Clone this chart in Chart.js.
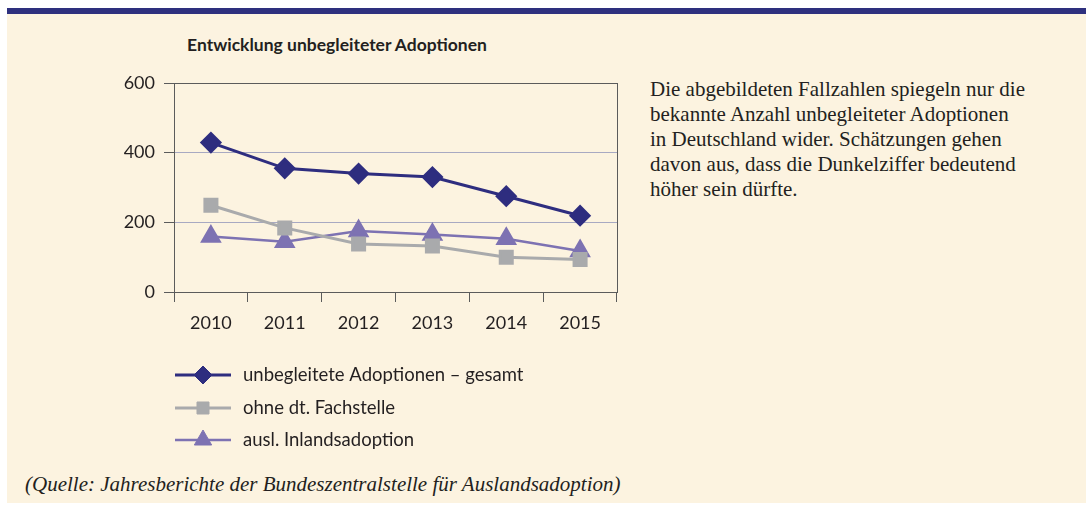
<!DOCTYPE html>
<html>
<head>
<meta charset="utf-8">
<script src="https://cdn.jsdelivr.net/npm/chart.js@4"></script>
<style>
  body { margin: 0; background: #fff; width: 1086px; height: 509px; overflow: hidden; position: relative; }
  #panel { position: absolute; left: 7px; top: 8px; width: 1079px; height: 495px; background: #fcf3e0; border-top: 6px solid #2e307e; box-sizing: border-box; }
  #box { position: absolute; left: 0; top: 0; width: 640px; height: 470px; }
  #title { position: absolute; left: 137px; width: 400px; top: 34px; text-align: center; font: bold 17.5px Lato, sans-serif; color: #231f20; }
  #note { position: absolute; left: 650px; top: 77px; width: 430px; font: 21px "Liberation Serif", serif; line-height: 25px; color: #231f20; }
  #src { position: absolute; left: 25px; top: 472px; font: italic 21px "Liberation Serif", serif; color: #231f20; }
</style>
</head>
<body>
<div id="panel"></div>
<div id="title">Entwicklung unbegleiteter Adoptionen</div>
<div id="box"><canvas id="myChart"></canvas></div>
<div id="note">Die abgebildeten Fallzahlen spiegeln nur die<br>bekannte Anzahl unbegleiteter Adoptionen<br>in Deutschland wider. Schätzungen gehen<br>davon aus, dass die Dunkelziffer bedeutend<br>höher sein dürfte.</div>
<div id="src">(Quelle: Jahresberichte der Bundeszentralstelle für Auslandsadoption)</div>
<script>
// Jahre und Werte
const jahre = ['2010', '2011', '2012', '2013', '2014', '2015'];
const gesamt = [429, 355, 340, 330, 275, 219];
const ohneFachstelle = [249, 184, 138, 132, 100, 93];
const inlandsadoption = [159, 144, 175, 165, 153, 118];
const yTicks = [0, 200, 400, 600];

const schrift = 'Lato, sans-serif';
const dunkel = '#5b5b5b';

// eigene Legende: Linie mit Marker in der Mitte
const legende = {
  id: 'legende',
  afterDraw(chart) {
    const c = chart.ctx;
    const zeilen = [375, 408, 440];
    chart.data.datasets.forEach((ds, i) => {
      const y = zeilen[i];
      c.save();
      c.strokeStyle = ds.borderColor;
      c.lineWidth = ds.borderWidth;
      c.beginPath();
      c.moveTo(175, y);
      c.lineTo(231, y);
      c.stroke();
      c.fillStyle = ds.pointBackgroundColor;
      c.strokeStyle = ds.pointBackgroundColor;
      c.lineWidth = 1;
      Chart.helpers.drawPoint(c, { pointStyle: ds.pointStyle, radius: ds.pointRadius, borderWidth: 1, rotation: 0 }, 203, y);
      c.fillStyle = '#231f20';
      c.font = '18.5px ' + schrift;
      c.textBaseline = 'middle';
      c.fillText(ds.label, 243, y);
      c.restore();
    });
  }
};

new Chart(document.getElementById('myChart'), {
  type: 'line',
  data: {
    labels: jahre,
    datasets: [
      { label: 'unbegleitete Adoptionen – gesamt', data: gesamt, borderColor: '#2e2d7f', borderWidth: 3,
        pointStyle: 'rectRot', pointRadius: 9, pointBackgroundColor: '#2e2d7f', pointBorderColor: '#2e2d7f' },
      { label: 'ohne dt. Fachstelle', data: ohneFachstelle, borderColor: '#a9aaac', borderWidth: 3,
        pointStyle: 'rect', pointRadius: 8.5, pointBackgroundColor: '#a9aaac', pointBorderColor: '#a9aaac' },
      { label: 'ausl. Inlandsadoption', data: inlandsadoption, borderColor: '#7d72b2', borderWidth: 2.5,
        pointStyle: 'triangle', pointRadius: 10, pointBackgroundColor: '#7d72b2', pointBorderColor: '#7d72b2' }
    ]
  },
  options: {
    responsive: true,
    maintainAspectRatio: false,
    animation: false,
    layout: { padding: { top: 83, left: 0, right: 23, bottom: 138 } },
    plugins: { legend: { display: false }, tooltip: { enabled: false }, title: { display: false } },
    scales: {
      x: {
        offset: true,
        grid: { offset: true, drawOnChartArea: false, tickLength: 10, tickColor: dunkel },
        border: { color: dunkel },
        ticks: { color: '#231f20', font: { family: schrift, size: 18 }, padding: 10 },
        afterFit(s) { s.height = 40; }
      },
      y: {
        min: 0, max: 600,
        afterBuildTicks(s) { s.ticks = yTicks.map(v => ({ value: v })); },
        grid: {
          tickLength: 10, tickColor: dunkel,
          color: c => (c.tick && (c.tick.value === 600 || c.tick.value === 0)) ? dunkel : '#a8a9c2'
        },
        border: { color: dunkel },
        ticks: { color: '#231f20', font: { family: schrift, size: 18 }, padding: 9 },
        afterFit(s) { s.width = 174; }
      },
      rechts: {
        position: 'right', min: 0, max: 600,
        grid: { display: false },
        ticks: { display: false },
        border: { display: true, color: dunkel },
        afterFit(s) { s.width = 0; }
      }
    }
  },
  plugins: [legende]
});
</script>
</body>
</html>
